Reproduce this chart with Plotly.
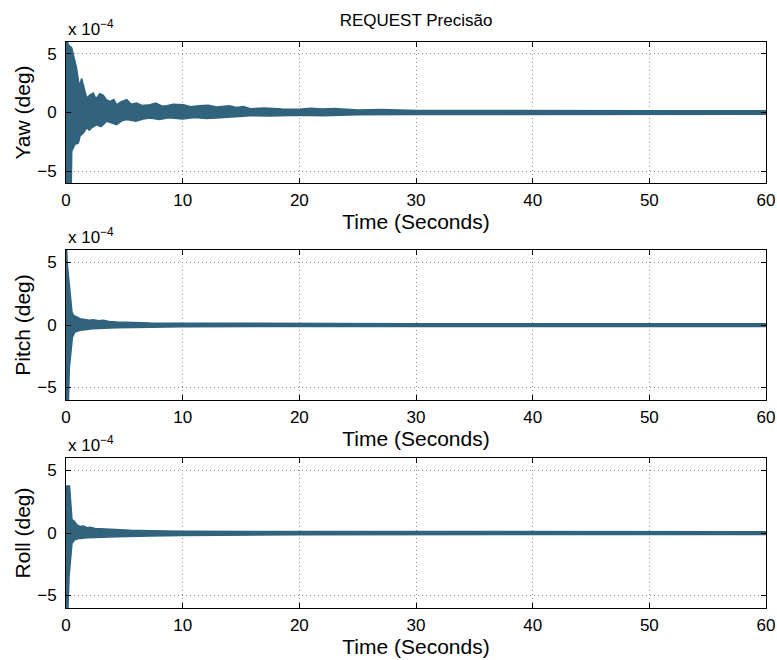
import plotly.graph_objects as go

# values in units of 1e-4 deg (envelope of the dense oscillating response)
yaw_up_t = [0, 0.2, 0.49, 0.69, 0.9, 1.05, 1.14, 1.34, 1.49, 1.65, 1.77, 2.06, 2.34, 2.5, 2.63, 2.9, 3.2, 3.45, 3.77, 4.1, 4.34, 4.7, 5.2, 5.6, 6.06, 6.5, 7.2, 7.7, 8.2, 8.63, 9.2, 10.06, 10.7, 11.4, 12.2, 12.9, 13.5, 14.0, 14.6, 15.2, 15.8, 17, 18.5, 20, 21, 22, 23, 25, 27, 30, 35, 40, 50, 60]
yaw_up = [6.5, 5.76, 5.5, 4.6, 3.8, 2.8, 2.2, 2.9, 2.36, 1.7, 1.23, 1.5, 1.65, 1.3, 1.23, 1.6, 1.45, 1.1, 0.95, 1.1, 0.66, 0.9, 1.09, 0.7, 0.8, 0.6, 0.66, 0.8, 0.55, 0.58, 0.7, 0.66, 0.5, 0.58, 0.62, 0.46, 0.52, 0.58, 0.42, 0.5, 0.32, 0.38, 0.3, 0.28, 0.36, 0.3, 0.34, 0.22, 0.25, 0.17, 0.18, 0.16, 0.15, 0.15]
yaw_lo_t = [0, 0.45, 0.49, 0.77, 1.06, 1.2, 1.49, 1.77, 2.0, 2.2, 2.63, 3.0, 3.5, 4.0, 4.34, 4.8, 5.2, 6.0, 6.6, 7.2, 8.0, 8.8, 10.0, 11.0, 12.0, 12.9, 14.0, 15.8, 17.5, 20, 22, 25, 30, 40, 50, 60]
yaw_lo = [-6.5, -6.5, -3.3, -2.7, -2.6, -2.0, -1.75, -1.3, -1.5, -1.3, -1.04, -1.2, -0.75, -0.9, -1.04, -0.7, -0.6, -0.75, -0.55, -0.47, -0.6, -0.45, -0.55, -0.42, -0.5, -0.47, -0.38, -0.27, -0.3, -0.24, -0.27, -0.2, -0.17, -0.16, -0.15, -0.15]

pitch_up_t = [0, 0.05, 0.1, 0.2, 0.28, 0.4, 0.51, 0.63, 0.92, 1.2, 1.49, 2.0, 2.34, 2.8, 3.2, 3.7, 4.34, 5.5, 7.2, 10, 20, 30, 60]
pitch_up = [6.5, 6.5, 5.0, 4.0, 3.36, 2.15, 1.05, 0.78, 0.65, 0.5, 0.46, 0.38, 0.42, 0.34, 0.38, 0.28, 0.24, 0.2, 0.16, 0.14, 0.12, 0.11, 0.11]
pitch_lo_t = [0, 0.2, 0.28, 0.45, 0.55, 0.77, 1.2, 1.8, 2.34, 3.2, 4.34, 7.2, 10, 20, 60]
pitch_lo = [-6.5, -6.5, -3.5, -1.77, -0.97, -0.56, -0.43, -0.36, -0.29, -0.25, -0.21, -0.17, -0.14, -0.12, -0.11]

roll_up_t = [0, 0.3, 0.34, 0.43, 0.51, 0.69, 0.92, 1.2, 1.49, 1.8, 2.06, 2.5, 2.9, 3.5, 4.34, 5.5, 7.2, 10, 20, 60]
roll_up = [3.77, 3.77, 3.3, 2.4, 1.07, 0.98, 0.66, 0.53, 0.56, 0.42, 0.45, 0.36, 0.34, 0.3, 0.26, 0.22, 0.18, 0.14, 0.12, 0.11]
roll_lo_t = [0, 0.15, 0.26, 0.34, 0.43, 0.51, 0.77, 1.2, 1.8, 2.34, 3.2, 4.34, 7.2, 10, 20, 60]
roll_lo = [-6.5, -6.5, -3.5, -2.7, -1.5, -0.83, -0.53, -0.43, -0.38, -0.35, -0.31, -0.29, -0.24, -0.19, -0.14, -0.11]

y_labels = ["Yaw (deg)", "Pitch (deg)", "Roll (deg)"]
x_label = "Time (Seconds)"
title = "REQUEST Precisão"
x_ticks = [0, 10, 20, 30, 40, 50, 60]
y_ticks = [-5, 0, 5]

W, H = 777, 660
COLOR = "#31637d"
FONT = "Liberation Sans"

# pixel boxes (top, bottom) of each axes
boxes = [(42, 183), (250, 400), (458, 608)]
xl, xr = 66, 766

series = [
    (yaw_up_t, yaw_up, yaw_lo_t, yaw_lo),
    (pitch_up_t, pitch_up, pitch_lo_t, pitch_lo),
    (roll_up_t, roll_up, roll_lo_t, roll_lo),
]

fig = go.Figure()
layout = dict(
    width=W, height=H, autosize=False,
    margin=dict(l=0, r=0, t=0, b=0),
    paper_bgcolor="white", plot_bgcolor="white",
    showlegend=False,
    font=dict(family=FONT, color="black", size=17),
    title=dict(text=title, x=(xl + xr) / 2 / W, xanchor="center",
               y=1 - 20 / H, yanchor="middle", font=dict(size=17, family=FONT)),
)
annotations = []
for i, (ut, uv, lt, lv) in enumerate(series):
    n = "" if i == 0 else str(i + 1)
    xa, ya = "x" + n, "y" + n
    fig.add_trace(go.Scatter(x=ut, y=uv, mode="lines", xaxis=xa, yaxis=ya,
                             line=dict(color=COLOR, width=1.5)))
    fig.add_trace(go.Scatter(x=lt, y=lv, mode="lines", xaxis=xa, yaxis=ya,
                             line=dict(color=COLOR, width=1.5),
                             fill="tonexty", fillcolor=COLOR))
    top, bot = boxes[i]
    common = dict(showline=True, linecolor="black", linewidth=1, mirror="ticks",
                  ticks="inside", ticklen=5, tickcolor="black", tickwidth=1,
                  showgrid=True, gridcolor="#8c8c8c", griddash="1px,3px", gridwidth=1,
                  zeroline=False, automargin=False, tickfont=dict(size=17, family=FONT))
    layout["xaxis" + n] = dict(common, domain=[xl / W, xr / W], range=[0, 60],
                               tickvals=x_ticks, anchor=ya,
                               ticklabelstandoff=2,
                               title=dict(text=x_label, standoff=0,
                                          font=dict(size=21, family=FONT)))
    layout["yaxis" + n] = dict(common, domain=[1 - bot / H, 1 - top / H], range=[-6, 6],
                               tickvals=y_ticks, ticktext=["\u22125", "0", "5"], anchor=xa,
                               ticklabelstandoff=5,
                               title=dict(text=y_labels[i], standoff=0,
                                          font=dict(size=21, family=FONT)))
    annotations.append(dict(text="x 10<sup>\u22124</sup>", xref="paper", yref="paper",
                            x=xl / W, y=1 - top / H, xanchor="left", yanchor="bottom",
                            showarrow=False, yshift=1, font=dict(size=17, family=FONT)))
layout["annotations"] = annotations
fig.update_layout(**layout)
fig.write_html("out.html")
